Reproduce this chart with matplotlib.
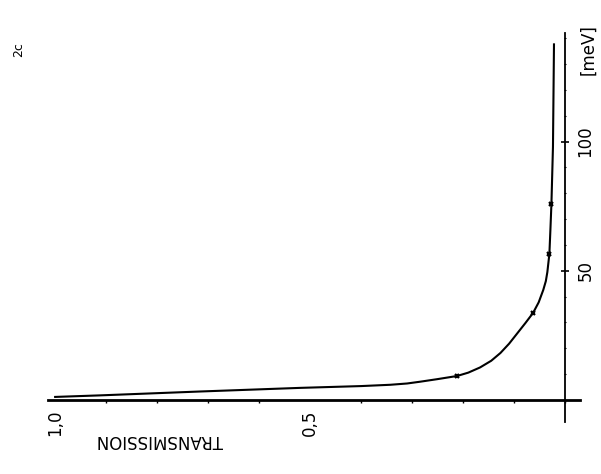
import matplotlib
matplotlib.use("Agg")
import matplotlib.pyplot as plt
from matplotlib.ticker import FixedLocator, MultipleLocator

# transmission vs energy
transmission = [1.0, 0.912, 0.716, 0.52, 0.40, 0.343, 0.31, 0.284, 0.25,
                0.212, 0.19, 0.167, 0.145, 0.127, 0.11, 0.094, 0.078,
                0.063, 0.052, 0.043, 0.038, 0.035, 0.031, 0.029, 0.027,
                0.024, 0.022]
energy = [1.2, 1.8, 3.3, 4.7, 5.4, 5.9, 6.4, 7.1, 8.1,
          9.3, 10.6, 12.6, 15.2, 18.2, 21.8, 25.8, 29.8,
          33.7, 37.8, 42.6, 46.0, 49.5, 56.6, 66.0, 76.0,
          98.0, 137.6]

# measured points marked on the curve
mark_t = [0.212, 0.063, 0.031, 0.027]
mark_e = [9.3, 33.7, 56.6, 76.0]

t_ticks = [1.0, 0.5]
t_labels = ["1,0", "0,5"]
e_ticks = [50, 100]
e_labels = ["50", "100"]

W, H = 601, 474
fig = plt.figure(figsize=(W / 100, H / 100), dpi=100)
ax = fig.add_axes([48 / W, (H - 422) / H, (580 - 48) / W, (422 - 33) / H])

ax.plot(transmission, energy, color="black", linewidth=1.5,
        solid_joinstyle="round")
ax.plot(mark_t, mark_e, linestyle="none", marker="x", markersize=3.5,
        markeredgewidth=1.6, color="black")

ax.set_xlim(1.014, -0.029)
ax.set_ylim(-8.5, 142)

# axes drawn as crossing lines, like the original sketch
ax.spines["top"].set_visible(False)
ax.spines["left"].set_visible(False)
ax.spines["bottom"].set_position(("data", 0))
ax.spines["right"].set_position(("data", 0))
ax.spines["bottom"].set_linewidth(2.0)
ax.spines["right"].set_linewidth(1.3)

ax.xaxis.set_major_locator(FixedLocator(t_ticks))
ax.set_xticklabels(t_labels, rotation=90, fontsize=12)
ax.xaxis.set_minor_locator(MultipleLocator(0.1))
ax.tick_params(axis="x", which="major", length=0, pad=7)
ax.tick_params(axis="x", which="minor", length=2, width=1, direction="out")

ax.yaxis.tick_right()
ax.yaxis.set_major_locator(FixedLocator(e_ticks))
ax.set_yticklabels(e_labels, rotation=90, fontsize=12, va="center")
ax.yaxis.set_minor_locator(MultipleLocator(10))
ax.tick_params(axis="y", which="major", length=6, width=1.2, direction="inout", pad=5)
ax.tick_params(axis="y", which="minor", length=2, width=0.8, direction="inout")
ax.tick_params(axis="y", which="both", left=False, right=True)

fig.text(588 / W, 1 - 50 / H, "[meV]", rotation=90, fontsize=12,
         ha="center", va="center")
fig.text(160 / W, 1 - 440 / H, "TRANSMISSION", rotation=180, fontsize=12,
         ha="center", va="center")
fig.text(19 / W, 1 - 50 / H, "2c", rotation=90, fontsize=9,
         ha="center", va="center")

fig.savefig("out.png", dpi=100)
